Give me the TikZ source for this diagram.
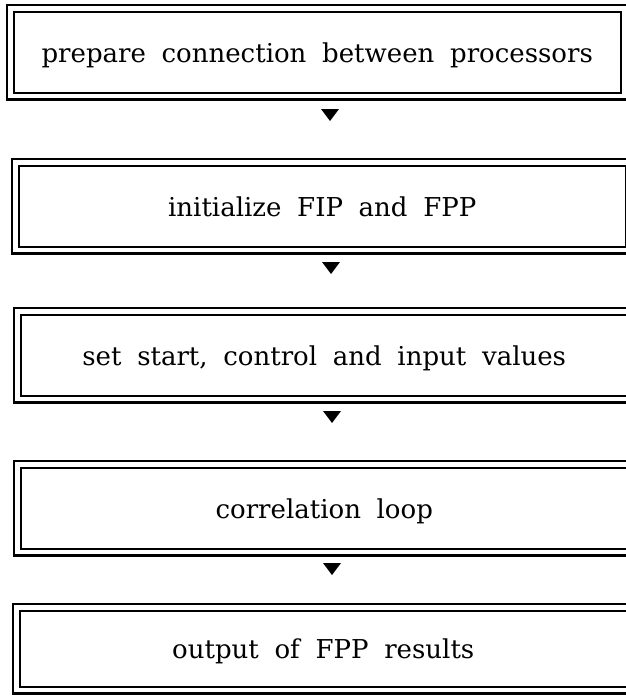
\documentclass[tikz,border=0pt]{standalone}
\usepackage{fontspec}
\setmainfont{DejaVu Serif}[WordSpace=1.9]
\begin{document}
\begin{tikzpicture}[x=1pt,y=-1pt,
  stepbox/.style={draw, line width=1.5pt, minimum width=607pt, minimum height=81pt,
    inner sep=0pt, text height=24pt, text depth=4pt, anchor=north west,
    font=\fontsize{26}{31}\selectfont},
  frameline/.style={line width=2.8pt},
  tipfill/.style={fill=black, draw=none}]
\useasboundingbox (0,0) rectangle (626,696);
\node[stepbox] (b1) at (13,11) {prepare connection between processors};
\node[stepbox] (b2) at (18,165) {initialize FIP and FPP};
\node[stepbox] (b3) at (20,314) {set start, control and input values};
\node[stepbox] (b4) at (20,467) {correlation loop};
\node[stepbox, minimum height=76pt] (b5) at (19,610) {output of FPP results};
\foreach \b in {b1,b2,b3,b4,b5}{
  \draw[frameline] ([xshift=-6pt,yshift=6pt]\b.north west) rectangle ([xshift=6pt,yshift=-6pt]\b.south east);
}
\coordinate (t1) at (330,109);
\coordinate (t2) at (331,262);
\coordinate (t3) at (332,411);
\coordinate (t4) at (332,563);
\foreach \t in {t1,t2,t3,t4}{
  \fill[tipfill] (\t) ++(-9,0) -- ++(18,0) -- ++(-9,12) -- cycle;
}
\end{tikzpicture}
\end{document}
